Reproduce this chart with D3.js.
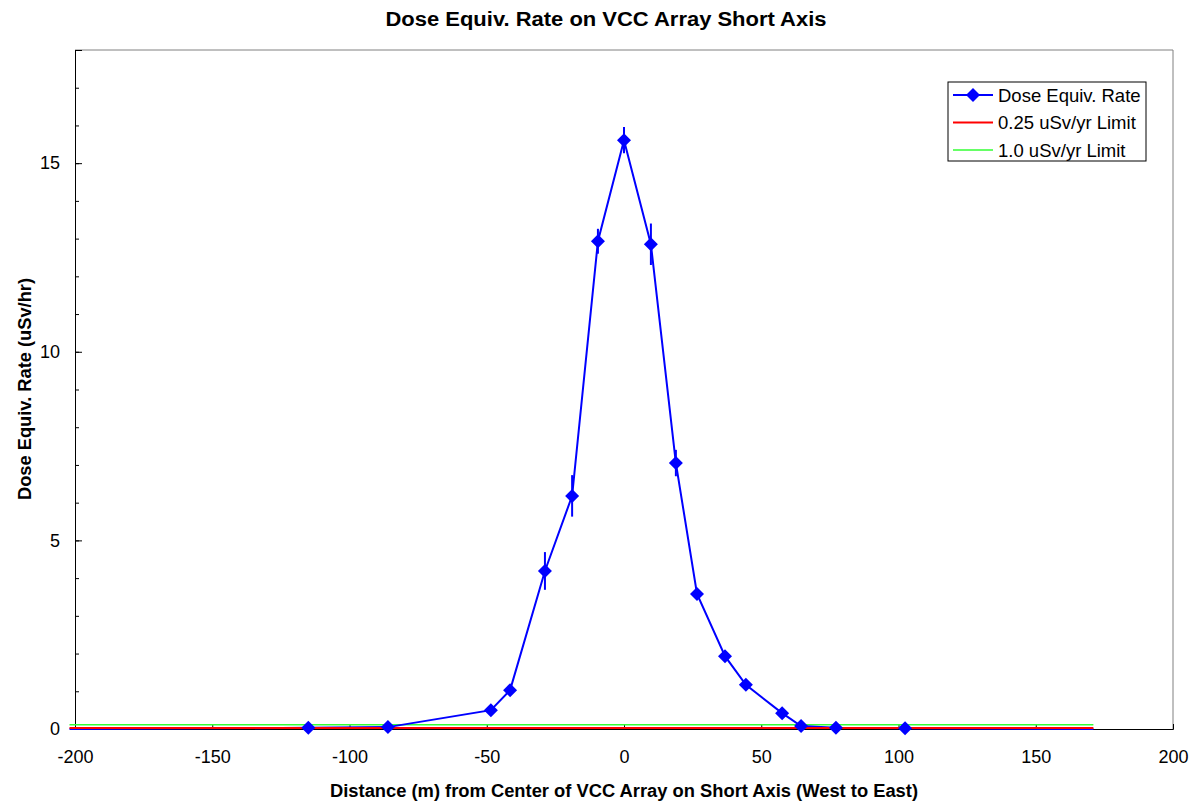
<!DOCTYPE html>
<html>
<head>
<meta charset="utf-8">
<script src="https://cdn.jsdelivr.net/npm/d3@7"></script>
<style>
  body { margin: 0; background: #fff; }
  text { font-family: Arial, "Liberation Sans", sans-serif; }
</style>
</head>
<body>
<div id="plot_area"></div>
<script>
// data
var distance = [-202, -115, -86, -48.5, -41.5, -28.8, -18.9, -9.5, 0, 9.8, 18.9, 26.6, 36.8, 44.4, 57.6, 64.5, 77.2, 102.4, 171];
var dose     = [0.0, 0.03, 0.05, 0.50, 1.03, 4.19, 6.18, 12.93, 15.61, 12.85, 7.05, 3.58, 1.93, 1.17, 0.42, 0.08, 0.03, 0.02, 0.0];
var doseErr  = [0, 0, 0, 0.05, 0.1, 0.5, 0.55, 0.33, 0.35, 0.55, 0.35, 0.15, 0.1, 0.08, 0.05, 0, 0, 0, 0];
var hasMarker = [false, true, true, true, true, true, true, true, true, true, true, true, true, true, true, true, true, true, false];

var limitX = [-202, 171];
var limit025 = 0.0285;   // 0.25 uSv/yr limit
var limit100 = 0.114;    // 1.0 uSv/yr limit

var xTicks = [-200, -150, -100, -50, 0, 50, 100, 150, 200];
var yTicks = [0, 5, 10, 15];
var yMinor = d3.range(0, 19, 1);

// set the dimensions and margins of the graph
var margin = {top: 50, right: 23, bottom: 76, left: 75},
    width = 1196 - margin.left - margin.right,
    height = 805 - margin.top - margin.bottom;

var svgRoot = d3.select("#plot_area")
  .append("svg")
    .attr("width", 1196)
    .attr("height", 805);

var Svg = svgRoot.append("g")
    .attr("transform", "translate(" + margin.left + "," + margin.top + ")");

var x = d3.scaleLinear().domain([-200, 200]).range([0, width]);
var y = d3.scaleLinear().domain([0, 18]).range([height, 0]);

// frame: top and right in gray
Svg.append("line").attr("x1", 0).attr("x2", width).attr("y1", 0).attr("y2", 0)
  .attr("stroke", "#808080").attr("stroke-width", 1);
Svg.append("line").attr("x1", width).attr("x2", width).attr("y1", 0).attr("y2", height)
  .attr("stroke", "#808080").attr("stroke-width", 1);

// X axis (ticks point inward)
var xAxis = Svg.append("g")
  .attr("transform", "translate(0," + height + ")")
  .call(d3.axisBottom(x).tickValues(xTicks).tickSize(-5).tickPadding(21).tickFormat(function(d) { return String(d); }));
xAxis.select(".domain").attr("stroke", "#000");
xAxis.selectAll("text").style("font-size", "18px").attr("fill", "#000");

// Y axis minor ticks
Svg.append("g")
  .call(d3.axisLeft(y).tickValues(yMinor).tickSize(-4).tickFormat(""))
  .select(".domain").remove();

// Y axis major ticks
var yAxis = Svg.append("g")
  .call(d3.axisLeft(y).tickValues(yTicks).tickSize(-7).tickPadding(15).tickFormat(function(d) { return String(d); }));
yAxis.select(".domain").attr("stroke", "#000");
yAxis.selectAll("text").style("font-size", "18px").attr("fill", "#000");

// limit lines
var limitLine = d3.line().x(function(d) { return x(d[0]); }).y(function(d) { return y(d[1]); });
Svg.append("path")
  .datum(limitX.map(function(v) { return [v, limit100]; }))
  .attr("d", limitLine).attr("fill", "none").attr("stroke", "#33ff33").attr("stroke-width", 1.5);

// data line
var pts = distance.map(function(d, i) { return {x: d, y: dose[i], e: doseErr[i], m: hasMarker[i]}; });
Svg.append("path")
  .datum(pts)
  .attr("d", d3.line().x(function(d) { return x(d.x); }).y(function(d) { return y(d.y); }))
  .attr("fill", "none").attr("stroke", "#0000ff").attr("stroke-width", 2);

Svg.append("path")
  .datum(limitX.map(function(v) { return [v, limit025]; }))
  .attr("d", limitLine).attr("fill", "none").attr("stroke", "#ff0000").attr("stroke-width", 2);

// error bars
Svg.selectAll(".err")
  .data(pts.filter(function(d) { return d.e > 0; }))
  .enter().append("line")
    .attr("class", "err")
    .attr("x1", function(d) { return x(d.x); })
    .attr("x2", function(d) { return x(d.x); })
    .attr("y1", function(d) { return y(d.y + d.e); })
    .attr("y2", function(d) { return y(d.y - d.e); })
    .attr("stroke", "#0000ff").attr("stroke-width", 2);

// diamonds
var diamond = "M0,-7L7,0L0,7L-7,0Z";
Svg.selectAll(".dot")
  .data(pts.filter(function(d) { return d.m; }))
  .enter().append("path")
    .attr("class", "dot")
    .attr("d", diamond)
    .attr("transform", function(d) { return "translate(" + x(d.x) + "," + y(d.y) + ")"; })
    .attr("fill", "#0000ff");

// title
svgRoot.append("text")
  .attr("x", 606).attr("y", 26)
  .attr("text-anchor", "middle")
  .attr("textLength", 441).attr("lengthAdjust", "spacingAndGlyphs")
  .style("font-size", "20px").style("font-weight", "bold")
  .text("Dose Equiv. Rate on VCC Array Short Axis");

// X axis label
svgRoot.append("text")
  .attr("x", 624).attr("y", 797)
  .attr("text-anchor", "middle")
  .attr("textLength", 588).attr("lengthAdjust", "spacingAndGlyphs")
  .style("font-size", "18px").style("font-weight", "bold")
  .text("Distance (m) from Center of VCC Array on Short Axis (West to East)");

// Y axis label
svgRoot.append("text")
  .attr("transform", "translate(31,389) rotate(-90)")
  .attr("text-anchor", "middle")
  .attr("textLength", 222).attr("lengthAdjust", "spacingAndGlyphs")
  .style("font-size", "18px").style("font-weight", "bold")
  .text("Dose Equiv. Rate (uSv/hr)");

// legend
var legend = svgRoot.append("g").attr("transform", "translate(948,82)");
legend.append("rect").attr("width", 198).attr("height", 79)
  .attr("fill", "#fff").attr("stroke", "#000").attr("stroke-width", 1);

var legendItems = [
  {label: "Dose Equiv. Rate", color: "#0000ff", marker: true, w: 2},
  {label: "0.25 uSv/yr Limit", color: "#ff0000", marker: false, w: 2},
  {label: "1.0 uSv/yr Limit", color: "#33ff33", marker: false, w: 1.5}
];
legendItems.forEach(function(it, i) {
  var yy = 13 + i * 27.5;
  legend.append("line").attr("x1", 5).attr("x2", 45).attr("y1", yy).attr("y2", yy)
    .attr("stroke", it.color).attr("stroke-width", it.w);
  if (it.marker) {
    legend.append("path").attr("d", diamond).attr("transform", "translate(25," + yy + ")")
      .attr("fill", it.color);
  }
  legend.append("text").attr("x", 50).attr("y", yy + 6.5)
    .style("font-size", "18.5px").text(it.label);
});
</script>
</body>
</html>
